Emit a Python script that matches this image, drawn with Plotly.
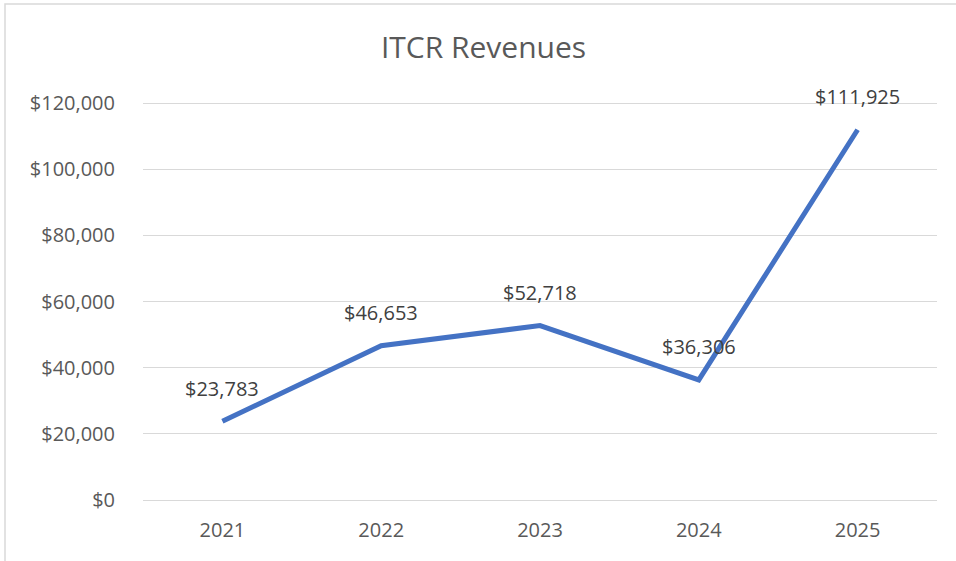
import plotly.graph_objects as go

years = [2021, 2022, 2023, 2024, 2025]
revenues = [23783, 46653, 52718, 36306, 111925]
y_ticks = [0, 20000, 40000, 60000, 80000, 100000, 120000]
y_tick_labels = ["$0", "$20,000", "$40,000", "$60,000", "$80,000", "$100,000", "$120,000"]

FONT = "Open Sans"

fig = go.Figure()
fig.add_trace(go.Scatter(
    x=years, y=revenues, mode="lines",
    line=dict(color="#4472C4", width=5),
    hoverinfo="skip", showlegend=False,
))

for x, v in zip(years, revenues):
    fig.add_annotation(x=x, y=v, text=f"${v:,}", showarrow=False, yshift=33,
                       font=dict(family=FONT, size=20, color="#404040"))

fig.update_layout(
    width=956, height=561,
    margin=dict(l=143, r=19, t=97, b=55),
    paper_bgcolor="white", plot_bgcolor="white",
    title=dict(text="ITCR Revenues", x=483.5 / 956, xanchor="center", y=1 - 47 / 561,
               yanchor="middle",
               font=dict(family=FONT, size=30, color="#595959")),
    xaxis=dict(type="linear", range=[years[0] - 0.5, years[-1] + 0.5],
               tickvals=years, ticktext=[str(y) for y in years],
               showgrid=False, showline=False, zeroline=False,
               ticks="outside", ticklen=6, tickcolor="rgba(0,0,0,0)",
               tickfont=dict(family=FONT, size=20, color="#595959")),
    yaxis=dict(type="linear", range=[-1814, 121814], tickvals=y_ticks, ticktext=y_tick_labels,
               showgrid=True, gridcolor="#d9d9d9", gridwidth=1, zeroline=False,
               showline=False, ticks="outside", ticklen=23, tickcolor="rgba(0,0,0,0)",
               tickfont=dict(family=FONT, size=20, color="#595959")),
    shapes=[dict(type="rect", xref="paper", yref="paper",
                 x0=(5 - 143) / 794, x1=(965 - 143) / 794,
                 y0=(506 - 570) / 409, y1=(506 - 4) / 409,
                 line=dict(color="#d9d9d9", width=1.5), fillcolor="rgba(0,0,0,0)",
                 layer="below")],
)

fig.write_html("out.html", config={"displayModeBar": False},
               post_script="document.body.style.margin='0';")
